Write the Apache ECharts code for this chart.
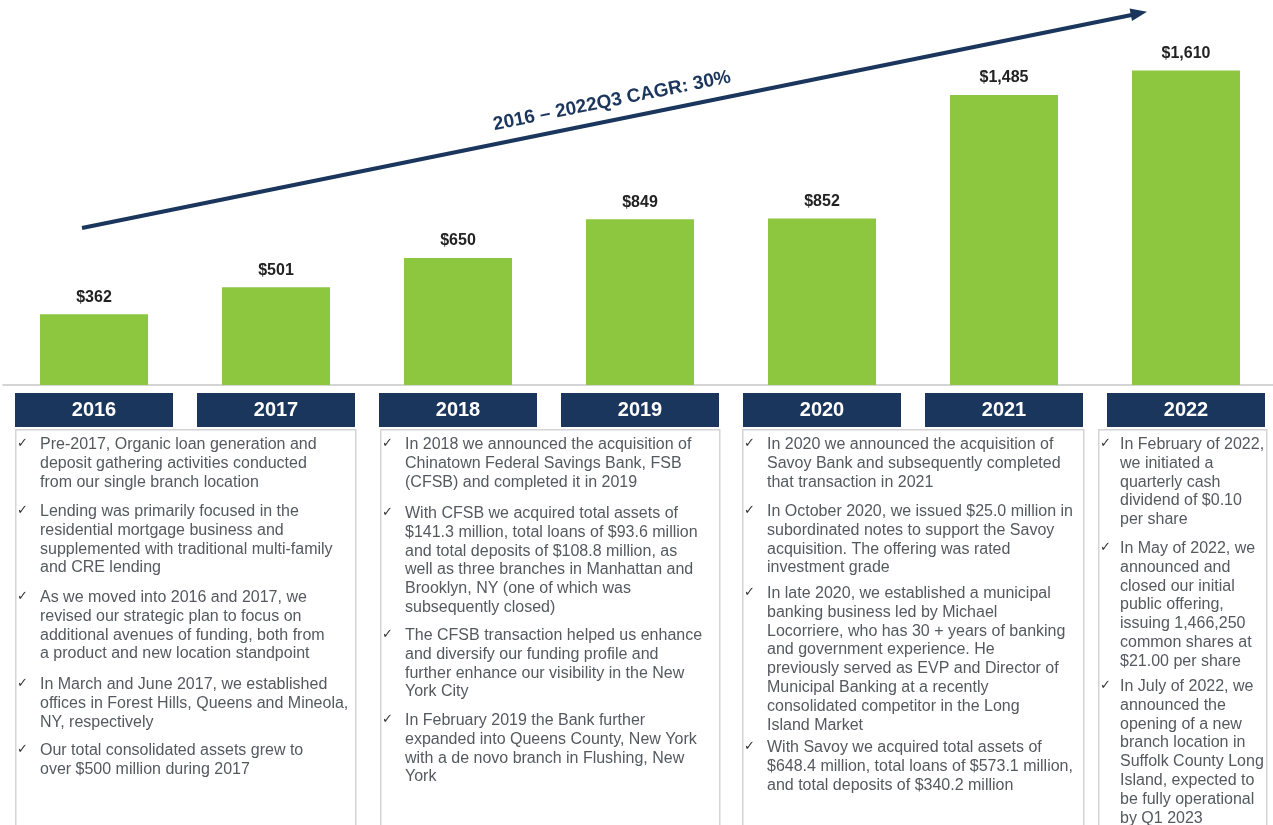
<!DOCTYPE html>
<html>
<head>
<meta charset="utf-8">
<script src="https://cdn.jsdelivr.net/npm/echarts@6/dist/echarts.min.js"></script>
<style>
  html, body { margin: 0; padding: 0; background: #fff; }
  #chart { width: 1273px; height: 825px; }
</style>
</head>
<body>
<div id="chart"></div>
<script>
// total assets ($ millions) per year
var years = ['2016', '2017', '2018', '2019', '2020', '2021', '2022'];
var assets = [362, 501, 650, 849, 852, 1485, 1610];
var cagrText = '2016 – 2022Q3 CAGR: 30%';

// bullet text per box (lines as in the slide)
var box1 = [
  ['Pre-2017, Organic loan generation and', 'deposit gathering activities conducted', 'from our single branch location'],
  ['Lending was primarily focused in the', 'residential mortgage business and', 'supplemented with traditional multi-family', 'and CRE lending'],
  ['As we moved into 2016 and 2017, we', 'revised our strategic plan to focus on', 'additional avenues of funding, both from', 'a product and new location standpoint'],
  ['In March and June 2017, we established', 'offices in Forest Hills, Queens and Mineola,', 'NY, respectively'],
  ['Our total consolidated assets grew to', 'over $500 million during 2017']
];
var box2 = [
  ['In 2018 we announced the acquisition of', 'Chinatown Federal Savings Bank, FSB', '(CFSB) and completed it in 2019'],
  ['With CFSB we acquired total assets of', '$141.3 million, total loans of $93.6 million', 'and total deposits of $108.8 million, as', 'well as three branches in Manhattan and', 'Brooklyn, NY (one of which was', 'subsequently closed)'],
  ['The CFSB transaction helped us enhance', 'and diversify our funding profile and', 'further enhance our visibility in the New', 'York City'],
  ['In February 2019 the Bank further', 'expanded into Queens County, New York', 'with a de novo branch in Flushing, New', 'York']
];
var box3 = [
  ['In 2020 we announced the acquisition of', 'Savoy Bank and subsequently completed', 'that transaction in 2021'],
  ['In October 2020, we issued $25.0 million in', 'subordinated notes to support the Savoy', 'acquisition. The offering was rated', 'investment grade'],
  ['In late 2020, we established a municipal', 'banking business led by Michael', 'Locorriere, who has 30 + years of banking', 'and government experience. He', 'previously served as EVP and Director of', 'Municipal Banking at a recently', 'consolidated competitor in the Long', 'Island Market'],
  ['With Savoy we acquired total assets of', '$648.4 million, total loans of $573.1 million,', 'and total deposits of $340.2 million']
];
var box4 = [
  ['In February of 2022,', 'we initiated a', 'quarterly cash', 'dividend of $0.10', 'per share'],
  ['In May of 2022, we', 'announced and', 'closed our initial', 'public offering,', 'issuing 1,466,250', 'common shares at', '$21.00 per share'],
  ['In July of 2022, we', 'announced the', 'opening of a new', 'branch location in', 'Suffolk County Long', 'Island, expected to', 'be fully operational', 'by Q1 2023']
];

var navy = '#1b365d';
var green = '#8dc63f';
var textGray = '#55595f';
var lh = 18.8;

var chart = echarts.init(document.getElementById('chart'));

// box layout: frame x, width, text x, first-line centre y of each bullet
var boxes = [
  { x: 15, w: 340, tx: 40, data: box1, ys: [444, 511, 597, 684, 750] },
  { x: 380, w: 339, tx: 405, data: box2, ys: [444, 513, 635, 720] },
  { x: 742, w: 341, tx: 767, data: box3, ys: [444, 511, 593, 747] },
  { x: 1098, w: 168, tx: 1120, data: box4, ys: [444, 548, 686] }
];

var graphics = [];
boxes.forEach(function (b) {
  graphics.push({
    type: 'rect', left: b.x, top: 429, silent: true,
    shape: { width: b.w, height: 420 },
    style: { fill: '#fff', stroke: '#d4d4d4', lineWidth: 1.5 }
  });
  b.data.forEach(function (lines, i) {
    graphics.push({
      type: 'text', x: b.x + 2, y: b.ys[i], silent: true,
      style: { text: '✓', fill: '#333', font: '13px "DejaVu Sans"', verticalAlign: 'middle' }
    });
    graphics.push({
      type: 'text', x: b.tx, y: b.ys[i] - lh / 2 + 0.5, silent: true,
      style: {
        text: lines.join('\n'), fill: textGray,
        font: '16px "Liberation Sans"', lineHeight: lh
      }
    });
  });
});

// CAGR arrow
graphics.push({
  type: 'line', silent: true,
  shape: { x1: 82, y1: 228, x2: 1134, y2: 14.5 },
  style: { stroke: navy, lineWidth: 4 }
});
graphics.push({
  type: 'polygon', silent: true,
  shape: { points: [[1147, 11.8], [1132, 21], [1129.6, 8.6]] },
  style: { fill: navy }
});
graphics.push({
  type: 'text', x: 612, y: 101, rotation: 0.2, silent: true,
  style: {
    text: cagrText, fill: navy, align: 'center', verticalAlign: 'middle',
    font: 'bold 19px "Liberation Sans"'
  }
});

var option = {
  animation: false,
  backgroundColor: '#fff',
  grid: { left: 3, width: 1274, top: 10, bottom: 440, outerBoundsMode: 'none', containLabel: false },
  xAxis: {
    type: 'category',
    data: years,
    axisLine: { lineStyle: { color: '#c8c8c8', width: 1.5 } },
    axisTick: { show: false },
    axisLabel: {
      margin: 8,
      color: '#fff',
      fontFamily: 'Liberation Sans',
      fontWeight: 'bold',
      fontSize: 20,
      backgroundColor: navy,
      width: 158,
      height: 34,
      lineHeight: 34,
      align: 'center',
      verticalAlign: 'top'
    }
  },
  yAxis: {
    type: 'value',
    min: 0,
    max: 1920,
    show: false,
    splitLine: { show: false }
  },
  series: [{
    type: 'bar',
    data: assets,
    barWidth: 108,
    itemStyle: { color: green },
    label: {
      show: true,
      position: 'top',
      distance: 9,
      color: '#222',
      fontFamily: 'Liberation Sans',
      fontWeight: 'bold',
      fontSize: 16,
      formatter: function (p) {
        return '$' + p.value.toLocaleString('en-US');
      }
    }
  }],
  graphic: graphics
};

chart.setOption(option);
</script>
</body>
</html>
